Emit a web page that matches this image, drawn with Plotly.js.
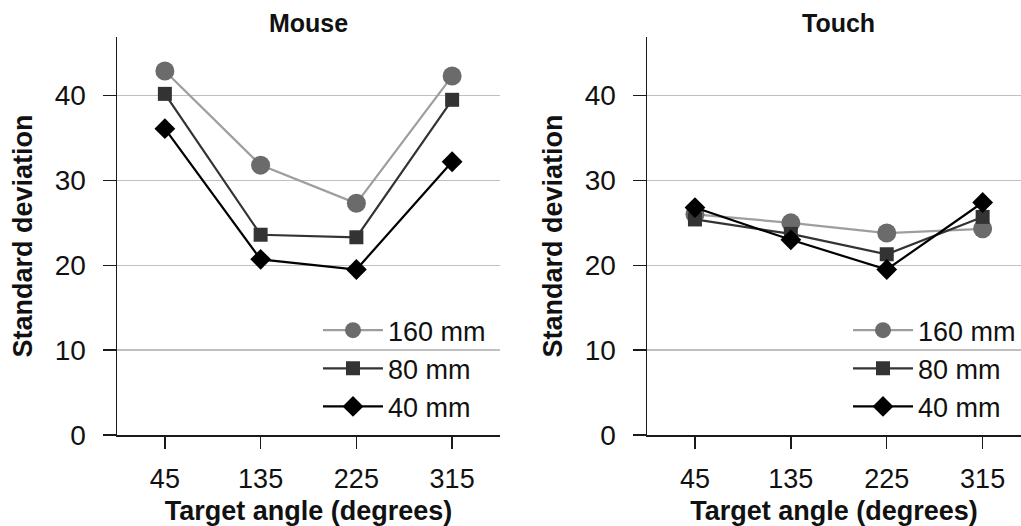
<!DOCTYPE html>
<html><head><meta charset="utf-8">
<script src="https://cdn.plot.ly/plotly-3.0.1.min.js"></script>
<style>html,body{margin:0;padding:0;background:#fff}#chart{width:1021px;height:526px}</style>
</head><body><div id="chart"></div>
<script>
const angles = ['45', '135', '225', '315'];
const seriesNames = ['160 mm', '80 mm', '40 mm'];
const mouse160 = [42.9, 31.8, 27.3, 42.3];
const mouse80 = [40.2, 23.6, 23.3, 39.5];
const mouse40 = [36.1, 20.7, 19.5, 32.2];
const touch160 = [26.0, 25.0, 23.8, 24.3];
const touch80 = [25.4, 23.7, 21.3, 25.7];
const touch40 = [26.8, 23.0, 19.5, 27.4];

const styles = [
  {line: '#9e9e9e', marker: '#6b6b6b', symbol: 'circle', size: 19},
  {line: '#333333', marker: '#333333', symbol: 'square', size: 14},
  {line: '#000000', marker: '#000000', symbol: 'diamond', size: 16}
];
const mouseData = [mouse160, mouse80, mouse40];
const touchData = [touch160, touch80, touch40];
const FONT = 'Liberation Sans, Arial, sans-serif';

const traces = [];
[mouseData, touchData].forEach((set, p) => {
  set.forEach((vals, i) => {
    const s = styles[i];
    traces.push({
      type: 'scatter', mode: 'lines+markers',
      x: angles, y: vals, name: seriesNames[i],
      xaxis: p === 0 ? 'x' : 'x2', yaxis: p === 0 ? 'y' : 'y2',
      legend: p === 0 ? 'legend' : 'legend2',
      legendgroup: 'g' + p + i,
      line: {color: s.line, width: 2.2},
      marker: {color: s.marker, symbol: s.symbol, size: s.size, line: {width: 0}},
      cliponaxis: false
    });
  });
});

const yDom = [91/526, 489/526];
function xa(dom, rng) {
  return {domain: dom, type: 'category', range: rng,
    showline: true, linecolor: '#1a1a1a', linewidth: 1.5,
    ticks: 'outside', ticklen: 12, tickwidth: 1.5, tickcolor: '#1a1a1a',
    ticklabelstandoff: 7,
    showgrid: false, zeroline: false, fixedrange: true,
    tickfont: {family: FONT, size: 27, color: '#111'},
    title: {text: '<b>Target angle (degrees)</b>', font: {family: FONT, size: 27, color: '#111'}, standoff: 15}};
}
function ya() {
  return {domain: yDom, range: [0, 46.9],
    showline: true, linecolor: '#1a1a1a', linewidth: 1.5,
    ticks: 'outside', ticklen: 13, tickwidth: 1.5, tickcolor: '#1a1a1a',
    tickvals: [0, 10, 20, 30, 40], ticklabelstandoff: 11,
    showgrid: true, gridcolor: '#c0c0c0', gridwidth: 1.5, zeroline: false, fixedrange: true,
    tickfont: {family: FONT, size: 28, color: '#111'},
    title: {text: '<b>Standard deviation</b>', font: {family: FONT, size: 27, color: '#111'}, standoff: 14}};
}
function leg(x) {
  return {x: x, y: 0.418, xanchor: 'left', yanchor: 'top', bgcolor: 'rgba(0,0,0,0)',
    font: {family: FONT, size: 27, color: '#111'}, tracegroupgap: 0, itemwidth: 60};
}

const layout = {
  width: 1021, height: 526, margin: {l: 0, r: 0, t: 0, b: 0},
  paper_bgcolor: '#fff', plot_bgcolor: '#fff', showlegend: true,
  xaxis: Object.assign(xa([117/1021, 500/1021], [-0.5, 3.5]), {anchor: 'y'}),
  yaxis: Object.assign(ya(), {anchor: 'x'}),
  xaxis2: Object.assign(xa([647/1021, 1], [-0.5, 3.4]), {anchor: 'y2'}),
  yaxis2: Object.assign(ya(), {anchor: 'x2'}),
  legend: leg(318/1021),
  legend2: leg(848/1021),
  annotations: [
    {text: '<b>Mouse</b>', x: 308/1021, y: 1 - 23/526, xref: 'paper', yref: 'paper', showarrow: false,
     xanchor: 'center', yanchor: 'middle', font: {family: FONT, size: 25, color: '#111'}},
    {text: '<b>Touch</b>', x: 838/1021, y: 1 - 23/526, xref: 'paper', yref: 'paper', showarrow: false,
     xanchor: 'center', yanchor: 'middle', font: {family: FONT, size: 25, color: '#111'}}
  ]
};
Plotly.newPlot('chart', traces, layout, {staticPlot: true, displayModeBar: false});
</script></body></html>
